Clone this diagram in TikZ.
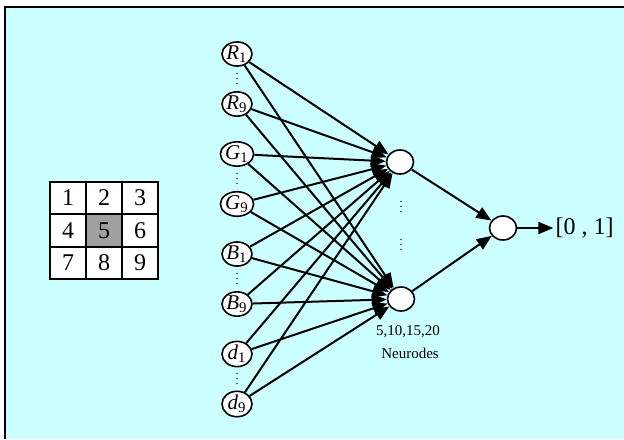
\documentclass[tikz,border=0pt]{standalone}
\usepackage{fontspec}
\setmainfont{Liberation Serif}
\usepackage{tikz}
\usetikzlibrary{shapes.geometric, positioning}
\usetikzlibrary{arrows.meta}
\tikzset{>={Triangle[width=6pt,length=7.5pt]}}
\definecolor{bgcyan}{RGB}{204,255,255}
\definecolor{cellgray}{RGB}{160,160,160}
\newcommand{\inlabel}[2]{\textit{#1}\textsubscript{#2}}
\newcommand{\smallvdots}{\vbox{\baselineskip=2.6pt \lineskiplimit=0pt \hbox{.}\hbox{.}\hbox{.}}}

\begin{document}
\begin{tikzpicture}[x=0.5pt, y=-0.5pt, innode/.style={ellipse, draw=black, fill=white, line width=0.8pt, inner sep=0pt, minimum width=15pt, minimum height=12pt, font=\fontsize{10.5}{10.5}\selectfont}, hidnode/.style={ellipse, draw=black, fill=white, line width=0.8pt, minimum width=13.5pt, minimum height=12pt}, cell/.style={draw=black, line width=0.8pt, fill=white, minimum width=18pt, minimum height=16.2pt, inner sep=0pt, font=\fontsize{12}{12}\selectfont}, dotsnode/.style={inner sep=0pt, font=\fontsize{6}{6}\selectfont}, emptynode/.style={draw=none, fill=none, inner sep=1pt, font=\fontsize{7.5}{7.5}\selectfont}]
    
    %Background
    \useasboundingbox (0,0) rectangle (624,439);
    \fill[white] (0,0) rectangle (624,439);
    \fill[bgcyan] (5,7) rectangle (624,439);
    \draw[line width=1pt] (5,439) -- (5,7) -- (624,7);
    
    %Grid
    \node[cell](c1) at (68,198){1};
    \node[cell](c2) at (104,198){2};
    \node[cell](c3) at (140,198){3};
    \node[cell](c4) at (68,230.5){4};
    \node[cell, fill=cellgray](c5) at (104,230.5){5};
    \node[cell](c6) at (140,230.5){6};
    \node[cell](c7) at (68,263){7};
    \node[cell](c8) at (104,263){8};
    \node[cell](c9) at (140,263){9};
    
    %Nodes
    \node[innode](r1) at (237,54){\inlabel{R}{1}};
    \node[innode](r9) at (237,104){\inlabel{R}{9}};
    \node[innode](g1) at (237,154){\inlabel{G}{1}};
    \node[innode](g9) at (237,204){\inlabel{G}{9}};
    \node[innode](b1) at (237,254){\inlabel{B}{1}};
    \node[innode](b9) at (237,304){\inlabel{B}{9}};
    \node[innode](d1) at (237,354){\inlabel{d}{1}};
    \node[innode](d9) at (237,404){\inlabel{d}{9}};
    \node[dotsnode](rdots) at (237,79){\smallvdots};
    \node[dotsnode](gdots) at (237,179){\smallvdots};
    \node[dotsnode](bdots) at (237,279){\smallvdots};
    \node[dotsnode](ddots) at (237,379){\smallvdots};
    \node[hidnode](h1) at (400,162){};
    \node[hidnode](h2) at (401,299){};
    \node[dotsnode](hdots1) at (401,207){\smallvdots};
    \node[dotsnode](hdots2) at (401,245){\smallvdots};
    \node[hidnode](out) at (503,228){};
    \node[emptynode, font=\fontsize{12}{12}\selectfont](range)[right=18pt of out]{[0\hspace{3pt},\hspace{3pt}1]};
    \node[emptynode](count) at (408,332){5,10,15,20};
    \node[emptynode](neurodes) at (410,353){Neurodes};
    
    %Lines
    \draw[->, line width=1pt] (r1) -- (h1);
    \draw[->, line width=1pt] (r1) -- (h2);
    \draw[->, line width=1pt] (r9) -- (h1);
    \draw[->, line width=1pt] (r9) -- (h2);
    \draw[->, line width=1pt] (g1) -- (h1);
    \draw[->, line width=1pt] (g1) -- (h2);
    \draw[->, line width=1pt] (g9) -- (h1);
    \draw[->, line width=1pt] (g9) -- (h2);
    \draw[->, line width=1pt] (b1) -- (h1);
    \draw[->, line width=1pt] (b1) -- (h2);
    \draw[->, line width=1pt] (b9) -- (h1);
    \draw[->, line width=1pt] (b9) -- (h2);
    \draw[->, line width=1pt] (d1) -- (h1);
    \draw[->, line width=1pt] (d1) -- (h2);
    \draw[->, line width=1pt] (d9) -- (h1);
    \draw[->, line width=1pt] (d9) -- (h2);
    \draw[->, line width=1pt] (h1) -- (out);
    \draw[->, line width=1pt] (h2) -- (out);
    \draw[->, line width=1pt] (out) -- (range);
    
\end{tikzpicture}
\end{document}
